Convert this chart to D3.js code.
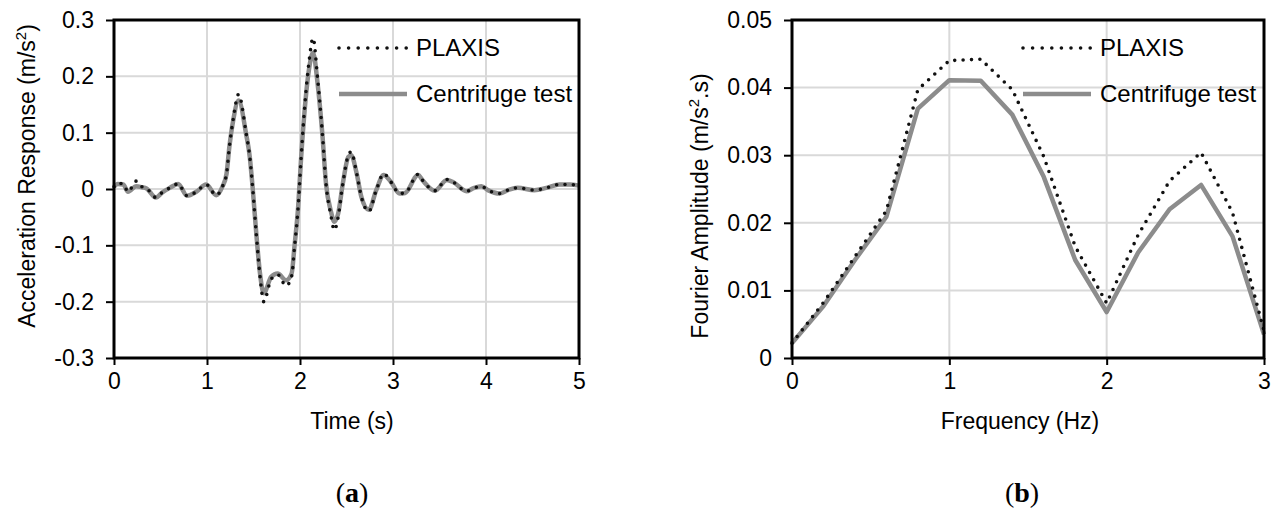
<!DOCTYPE html>
<html>
<head>
<meta charset="utf-8">
<script src="https://cdn.jsdelivr.net/npm/d3@7"></script>
<style>
  body { margin: 0; background: #fff; }
  text { font-family: "Liberation Sans", Arial, sans-serif; fill: #000; }
  .caption { font-family: "Liberation Serif", "Times New Roman", serif; font-weight: bold; }
</style>
</head>
<body>
<div id="chart"></div>
<script>
const width = 1279;
const height = 508;

// (a) acceleration time history
const times = [0, 0.04, 0.1, 0.15, 0.24, 0.3, 0.35, 0.45, 0.52, 0.6, 0.69, 0.785, 0.885, 0.99, 1.1, 1.165,
  1.21, 1.24, 1.28, 1.34, 1.42, 1.46, 1.49, 1.53, 1.57, 1.61, 1.69, 1.76, 1.85, 1.91, 1.94, 1.98,
  2.01, 2.05, 2.1, 2.14, 2.19, 2.24, 2.28, 2.33, 2.37, 2.41, 2.46, 2.52, 2.55, 2.61, 2.66, 2.74,
  2.82, 2.9, 2.98, 3.07, 3.13, 3.27, 3.32, 3.45, 3.58, 3.65, 3.79, 3.86, 3.95, 4.02, 4.15, 4.25,
  4.34, 4.52, 4.65, 4.79, 4.9, 5];
const accCentrifuge = [0.004, 0.009, 0.008, -0.005, 0.005, 0.003, 0.001, -0.015, -0.006, 0.002, 0.009, -0.012, -0.005, 0.008, -0.011, 0.004,
  0.027, 0.074, 0.12, 0.157, 0.098, 0.057, 0.004, -0.079, -0.15, -0.185, -0.156, -0.15, -0.162, -0.15, -0.103, -0.032,
  0.05, 0.14, 0.216, 0.242, 0.186, 0.098, 0.009, -0.038, -0.058, -0.044, 0.009, 0.057, 0.06, 0.027, -0.014, -0.037,
  -0.002, 0.025, 0.012, -0.008, -0.007, 0.025, 0.015, -0.003, 0.016, 0.012, -0.004, 0.001, 0.005, -0.002, -0.008, -0.001,
  0.002, -0.002, 0.002, 0.008, 0.008, 0.006];
const accPlaxis = [0.004, 0.01, 0.009, -0.005, 0.014, 0.004, 0.001, -0.015, -0.006, 0.002, 0.009, -0.012, -0.005, 0.008, -0.011, 0.004,
  0.027, 0.074, 0.122, 0.168, 0.1, 0.057, 0.004, -0.08, -0.155, -0.2, -0.16, -0.152, -0.172, -0.155, -0.105, -0.032,
  0.05, 0.145, 0.23, 0.268, 0.195, 0.1, 0.009, -0.045, -0.073, -0.05, 0.009, 0.06, 0.066, 0.027, -0.014, -0.04,
  -0.002, 0.027, 0.012, -0.008, -0.007, 0.026, 0.015, -0.003, 0.017, 0.012, -0.004, 0.001, 0.005, -0.002, -0.008, -0.001,
  0.002, -0.002, 0.002, 0.008, 0.008, 0.006];

// (b) Fourier spectrum
const freqs = [0, 0.2, 0.4, 0.6, 0.8, 1, 1.2, 1.4, 1.6, 1.8, 2, 2.2, 2.4, 2.6, 2.8, 3];
const fourierCentrifuge = [0.0022, 0.0077, 0.0145, 0.0209, 0.0369, 0.0411, 0.041, 0.036, 0.0268, 0.0145, 0.0068, 0.0156, 0.022, 0.0256, 0.018, 0.0035];
const fourierPlaxis = [0.0022, 0.0082, 0.015, 0.0218, 0.0397, 0.044, 0.0442, 0.0397, 0.0298, 0.0165, 0.0081, 0.0182, 0.0262, 0.0304, 0.0215, 0.004];

const accTicksX = [0, 1, 2, 3, 4, 5];
const accTicksY = [-0.3, -0.2, -0.1, 0, 0.1, 0.2, 0.3];
const fourierTicksX = [0, 1, 2, 3];
const fourierTicksY = [0, 0.01, 0.02, 0.03, 0.04, 0.05];

const seriesNames = ["PLAXIS", "Centrifuge test"];

const svg = d3.select("#chart")
  .append("svg")
  .attr("width", width)
  .attr("height", height);

// excel-style labels: plain hyphen, bare "0"
function tickLabel(digits) {
  return d => d === 0 ? "0" : d3.format(`.${digits}f`)(d).replace("\u2212", "-");
}

function drawPanel(opts) {
  const { left, right, top, bottom, xDomain, yDomain, xTicks, yTicks, yFormat,
    xs, centrifuge, plaxis, curve, xLabel, yLabel, yLabelPos, xLabelX, legendX, caption, captionX } = opts;

  const x = d3.scaleLinear().domain(xDomain).range([left, right]);
  const y = d3.scaleLinear().domain(yDomain).range([bottom, top]);
  const g = svg.append("g");

  // grid
  g.selectAll(".vgrid").data(xTicks).join("line")
    .attr("x1", d => x(d)).attr("x2", d => x(d))
    .attr("y1", top).attr("y2", bottom)
    .attr("stroke", "#d9d9d9").attr("stroke-width", 2);
  g.selectAll(".hgrid").data(yTicks).join("line")
    .attr("x1", left).attr("x2", right)
    .attr("y1", d => y(d)).attr("y2", d => y(d))
    .attr("stroke", "#d9d9d9").attr("stroke-width", 2);

  const line = (vals) => d3.line()
    .x((d, i) => x(xs[i]))
    .y(d => y(d))
    .curve(curve)(vals);

  g.append("path")
    .attr("d", line(centrifuge))
    .attr("fill", "none")
    .attr("stroke", "#8c8c8c")
    .attr("stroke-width", 4.5)
    .attr("stroke-linejoin", "round");

  g.append("path")
    .attr("d", line(plaxis))
    .attr("fill", "none")
    .attr("stroke", "#111")
    .attr("stroke-width", 3.6)
    .attr("stroke-linecap", "round")
    .attr("stroke-dasharray", "0 8.4");

  // frame
  g.append("rect")
    .attr("x", left).attr("y", top)
    .attr("width", right - left).attr("height", bottom - top)
    .attr("fill", "none").attr("stroke", "#000").attr("stroke-width", 3);

  // axes
  const yAxis = d3.axisLeft(y).tickValues(yTicks).tickSize(8).tickPadding(12).tickFormat(yFormat);
  const xAxis = d3.axisBottom(x).tickValues(xTicks).tickSize(7).tickPadding(8).tickFormat(d3.format("d"));

  const ya = g.append("g").attr("transform", `translate(${left},0)`).call(yAxis);
  const xa = g.append("g").attr("transform", `translate(0,${bottom})`).call(xAxis);
  [ya, xa].forEach(a => {
    a.select(".domain").remove();
    a.selectAll(".tick line").attr("stroke", "#000").attr("stroke-width", 2);
    a.selectAll(".tick text").attr("font-size", 23).attr("font-family", "Liberation Sans, Arial, sans-serif").attr("fill", "#000");
  });

  // labels
  g.append("text")
    .attr("x", xLabelX).attr("y", 429)
    .attr("text-anchor", "middle").attr("font-size", 23)
    .text(xLabel);

  const yl = g.append("text")
    .attr("transform", `translate(${yLabelPos[0]},${yLabelPos[1]}) rotate(-90)`)
    .attr("text-anchor", "middle").attr("font-size", 23);
  yLabel.forEach(part => {
    const t = yl.append("tspan").text(part.text);
    if (part.sup) t.attr("font-size", 15).attr("dy", -9);
    if (part.after) t.attr("dy", 9);
  });

  // legend
  const legend = g.append("g").attr("transform", `translate(${legendX},0)`);
  legend.append("line")
    .attr("x1", 0).attr("x2", 68).attr("y1", 48).attr("y2", 48)
    .attr("stroke", "#111").attr("stroke-width", 3.6)
    .attr("stroke-linecap", "round").attr("stroke-dasharray", "0 9.6");
  legend.append("line")
    .attr("x1", 0).attr("x2", 68).attr("y1", 94).attr("y2", 94)
    .attr("stroke", "#8c8c8c").attr("stroke-width", 4.5);
  legend.selectAll(".lt").data(seriesNames).join("text")
    .attr("x", 77).attr("y", (d, i) => 56 + i * 46)
    .attr("font-size", 24)
    .text(d => d);

  const cap = g.append("text")
    .attr("class", "caption")
    .attr("x", captionX).attr("y", 502)
    .attr("text-anchor", "middle").attr("font-size", 28);
  cap.append("tspan").attr("font-weight", "normal").text("(");
  cap.append("tspan").text(caption);
  cap.append("tspan").attr("font-weight", "normal").text(")");
}

drawPanel({
  left: 114, right: 579, top: 20, bottom: 358,
  xDomain: [0, 5], yDomain: [-0.3, 0.3],
  xTicks: accTicksX, yTicks: accTicksY,
  yFormat: tickLabel(1),
  xs: times, centrifuge: accCentrifuge, plaxis: accPlaxis,
  curve: d3.curveMonotoneX,
  xLabel: "Time (s)", xLabelX: 352,
  yLabel: [{ text: "Acceleration Response (m/s" }, { text: "2", sup: true }, { text: ")", after: true }],
  yLabelPos: [35, 176],
  legendX: 339, caption: "a", captionX: 352
});

drawPanel({
  left: 792, right: 1264, top: 20, bottom: 358,
  xDomain: [0, 3], yDomain: [0, 0.05],
  xTicks: fourierTicksX, yTicks: fourierTicksY,
  yFormat: tickLabel(2),
  xs: freqs, centrifuge: fourierCentrifuge, plaxis: fourierPlaxis,
  curve: d3.curveLinear,
  xLabel: "Frequency (Hz)", xLabelX: 1020,
  yLabel: [{ text: "Fourier Amplitude (m/s" }, { text: "2", sup: true }, { text: ".s)", after: true }],
  yLabelPos: [708, 206],
  legendX: 1023, caption: "b", captionX: 1022
});
</script>
</body>
</html>
